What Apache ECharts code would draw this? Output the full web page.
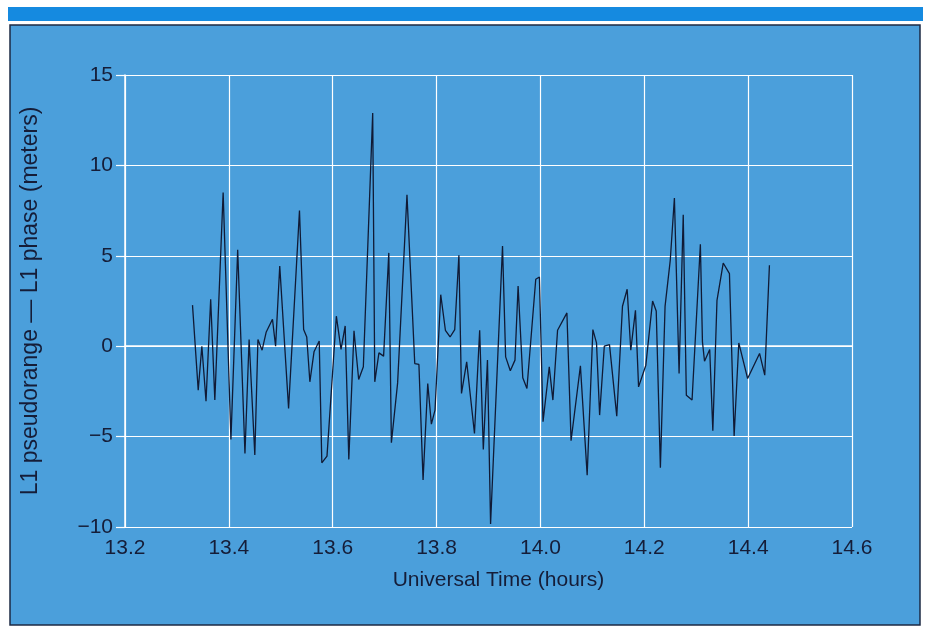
<!DOCTYPE html>
<html>
<head>
<meta charset="utf-8">
<script src="https://cdn.jsdelivr.net/npm/echarts@6/dist/echarts.min.js"></script>
<style>
  html, body { margin: 0; padding: 0; background: #ffffff; }
  #chart { width: 927px; height: 633px; }
</style>
</head>
<body>
<div id="chart"></div>
<script>
// time (hours UT) and L1 pseudorange minus L1 phase (m)
const times = [
  13.330, 13.341, 13.348, 13.356, 13.365, 13.373, 13.389, 13.404, 13.417, 13.431,
  13.439, 13.450, 13.456, 13.464, 13.472, 13.484, 13.490, 13.498, 13.515, 13.536,
  13.544, 13.550, 13.556, 13.564, 13.574, 13.579, 13.589, 13.607, 13.616, 13.624,
  13.631, 13.641, 13.650, 13.659, 13.677, 13.681, 13.689, 13.698, 13.708, 13.713,
  13.725, 13.743, 13.758, 13.766, 13.774, 13.783, 13.790, 13.797, 13.808, 13.817,
  13.826, 13.835, 13.843, 13.848, 13.858, 13.873, 13.883, 13.890, 13.898, 13.904,
  13.927, 13.933, 13.942, 13.951, 13.957, 13.966, 13.974, 13.991, 13.998, 14.005,
  14.017, 14.024, 14.033, 14.051, 14.059, 14.077, 14.090, 14.101, 14.108, 14.114,
  14.123, 14.133, 14.147, 14.158, 14.167, 14.174, 14.183, 14.189, 14.203, 14.216,
  14.223, 14.231, 14.240, 14.250, 14.258, 14.267, 14.275, 14.281, 14.292, 14.308,
  14.312, 14.316, 14.326, 14.332, 14.340, 14.352, 14.364, 14.373, 14.382, 14.399,
  14.422, 14.432, 14.441
];
const residuals = [
  2.27, -2.43, 0.00, -3.04, 2.60, -2.98, 8.50, -5.16, 5.34, -5.93,
  0.37, -6.02, 0.37, -0.22, 0.79, 1.49, 0.00, 4.44, -3.44, 7.51,
  0.92, 0.51, -1.97, -0.31, 0.29, -6.45, -6.08, 1.66, -0.18, 1.12,
  -6.26, 0.85, -1.84, -1.14, 12.90, -1.97, -0.37, -0.55, 5.16, -5.34,
  -2.03, 8.38, -0.96, -1.01, -7.40, -2.06, -4.31, -3.54, 2.85, 0.88,
  0.51, 0.92, 5.03, -2.61, -0.87, -4.83, 0.88, -5.71, -0.77, -9.83,
  5.54, -0.59, -1.36, -0.77, 3.33, -1.75, -2.34, 3.70, 3.83, -4.18,
  -1.14, -2.98, 0.88, 1.84, -5.23, -1.09, -7.13, 0.92, 0.18, -3.81,
  0.00, 0.09, -3.87, 2.21, 3.15, -0.22, 1.99, -2.25, -1.05, 2.50,
  1.95, -6.72, 2.20, 4.75, 8.20, -1.51, 7.27, -2.71, -2.98, 5.64,
  0.24, -0.83, -0.18, -4.68, 2.54, 4.60, 4.01, -4.97, 0.18, -1.79,
  -0.40, -1.60, 4.48
];
const xTicks = { min: 13.2, max: 14.6, step: 0.2 };
const yTicks = { min: -10, max: 15, step: 5 };

const points = times.map((t, i) => [t, residuals[i]]);

const textColor = '#151d38';
const fontFamily = '"Liberation Sans", Arial, sans-serif';

const chart = echarts.init(document.getElementById('chart'));
chart.setOption({
  backgroundColor: '#ffffff',
  animation: false,
  graphic: [
    // blue rule across the top of the page
    { type: 'rect', shape: { x: 8, y: 7, width: 915, height: 14 }, style: { fill: '#158ae0' }, z: -10 },
    // figure panel
    {
      type: 'rect',
      shape: { x: 10, y: 25, width: 910, height: 600 },
      style: { fill: '#4b9fdb', stroke: '#1d2a44', lineWidth: 1.5 },
      z: -10
    }
  ],
  grid: { left: 125, right: 75, top: 75, bottom: 106 },
  xAxis: {
    type: 'value',
    min: xTicks.min,
    max: xTicks.max,
    interval: xTicks.step,
    name: 'Universal Time (hours)',
    nameLocation: 'middle',
    nameGap: 43,
    nameTextStyle: { color: textColor, fontSize: 21, fontFamily, padding: [0, 0, 0, 20] },
    axisLine: { show: true, lineStyle: { color: '#ffffff', width: 1.5 } },
    axisTick: { show: false },
    axisLabel: {
      color: textColor,
      fontSize: 21,
      fontFamily,
      margin: 11,
      formatter: v => v.toFixed(1)
    },
    splitLine: { show: true, lineStyle: { color: '#ffffff', width: 1.2 } }
  },
  yAxis: {
    type: 'value',
    min: yTicks.min,
    max: yTicks.max,
    interval: yTicks.step,
    name: 'L1 pseudorange \u2014 L1 phase (meters)',
    nameLocation: 'middle',
    nameGap: 83,
    nameTextStyle: { color: textColor, fontSize: 23, fontFamily },
    axisLine: { show: true, lineStyle: { color: '#ffffff', width: 1.5 } },
    axisTick: { show: true, length: 9, lineStyle: { color: '#ffffff', width: 1.2 } },
    axisLabel: {
      color: textColor,
      fontSize: 21,
      fontFamily,
      margin: 12,
      formatter: v => String(v).replace('-', '\u2212')
    },
    splitLine: { show: true, lineStyle: { color: '#ffffff', width: 1.2 } }
  },
  series: [
    {
      type: 'line',
      data: points,
      showSymbol: false,
      lineStyle: { color: '#101a35', width: 1.3 }
    }
  ]
});
</script>
</body>
</html>
